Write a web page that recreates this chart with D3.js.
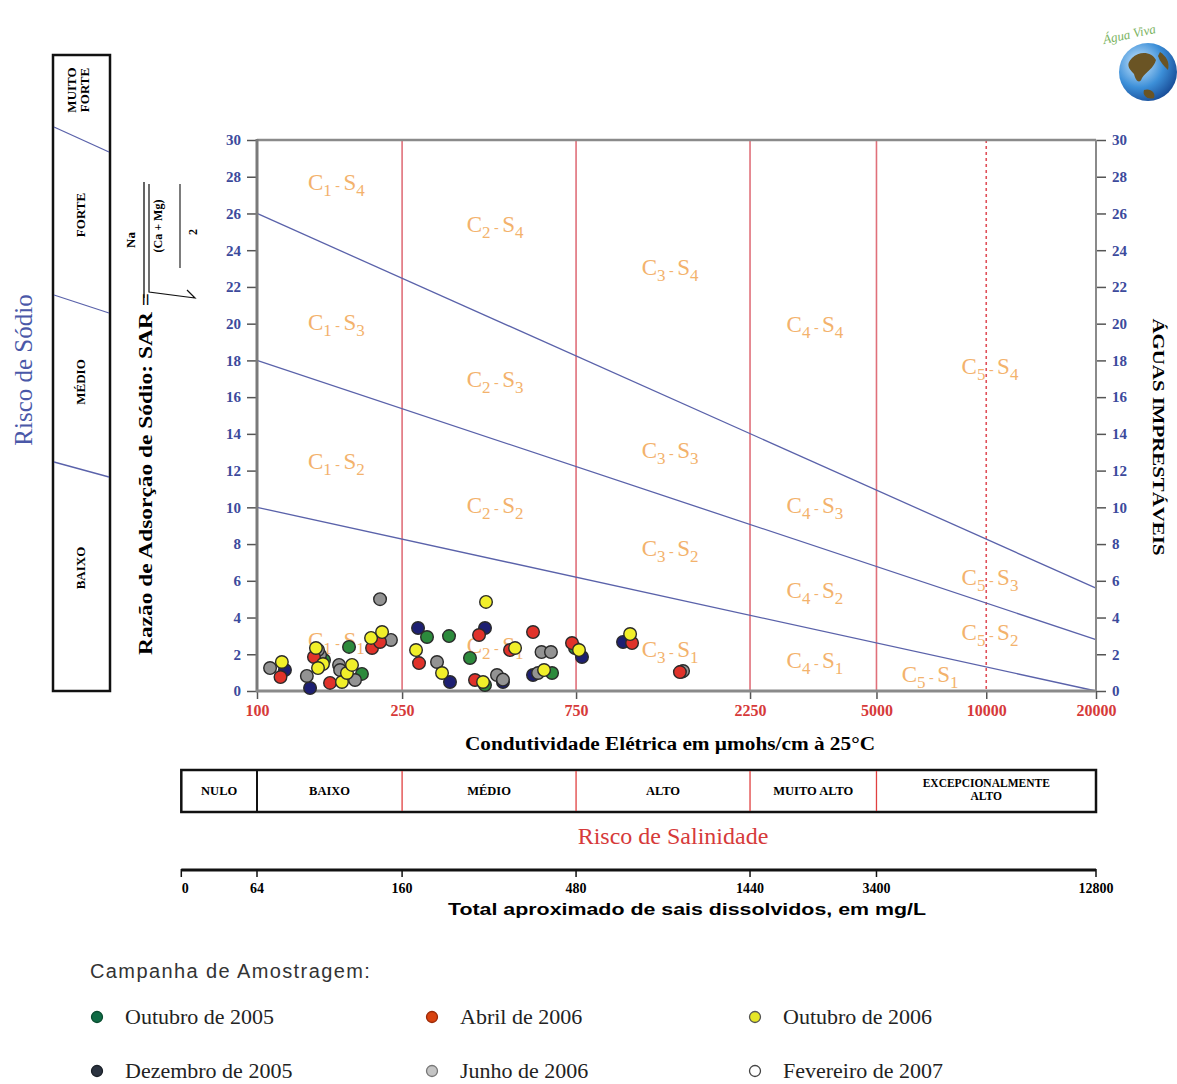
<!DOCTYPE html>
<html>
<head>
<meta charset="utf-8">
<script src="https://cdn.jsdelivr.net/npm/d3@7"></script>
<style>
  body { margin: 0; background: #fff; }
  text { font-family: "Liberation Serif", "DejaVu Serif", serif; }
</style>
</head>
<body>
<script>
const width = 1177;
const height = 1084;

// conductivity axis (µmhos/cm)
const ecTicks = [100, 250, 750, 2250, 5000, 10000, 20000];
const salinityBreaks = [250, 750, 2250, 5000];
const dashedBreak = 10000;
const sarTicks = d3.range(0, 31, 2);

// salinity classes, edges given in conductivity units
const salinityClasses = ["NULO", "BAIXO", "MÉDIO", "ALTO", "MUITO ALTO", "EXCEPCIONALMENTE ALTO"];
const salinityEdges = [62, 100, 250, 750, 2250, 5000, 20000];

// dissolved solids scale (mg/L) and where each sits on the conductivity axis
const tdsTicks = [0, 64, 160, 480, 1440, 3400, 12800];
const tdsAsEc = [62, 100, 250, 750, 2250, 5000, 20000];

// sodium-hazard boundaries: SAR at EC = 100 and EC = 20000
const sarLineEc = [100, 20000];
const sarS1S2 = [10, 0];
const sarS2S3 = [18, 2.8];
const sarS3S4 = [26, 5.6];

// zone labels  C_i - S_j
const zoneC = [1, 1, 1, 1, 2, 2, 2, 2, 3, 3, 3, 3, 4, 4, 4, 4, 5, 5, 5, 5];
const zoneS = [4, 3, 2, 1, 4, 3, 2, 1, 4, 3, 2, 1, 4, 3, 2, 1, 4, 3, 2, 1];
const zoneEc = [165, 165, 165, 165, 450, 450, 450, 450, 1358, 1358, 1358, 1358,
                3390, 3390, 3390, 3390, 10240, 10240, 10240, 7015];
const zoneSar = [27.7, 20.1, 12.5, 2.8, 25.4, 17.0, 10.1, 2.5, 23.1, 13.1, 7.8, 2.3,
                 20.0, 10.1, 5.5, 1.7, 17.7, 6.2, 3.2, 0.9];

// samples [EC, SAR] per campaign
const out2005 = [[152.7, 1.69], [178.8, 2.40], [194, 0.93], [292.6, 2.94], [336.2, 2.99],
                 [383.8, 1.80], [422, 0.33], [644.5, 0.98], [745, 2.34]];
const dez2005 = [[119.3, 1.14], [139.8, 0.16], [276.5, 3.43], [422, 3.43], [338.3, 0.49],
                 [472.7, 0.49], [571.5, 0.87], [778.6, 1.85], [1009, 2.67], [1460, 1.05]];
const abr2006 = [[116, 0.76], [143.3, 1.85], [158.6, 0.44], [206.8, 2.34], [217.5, 2.67],
                 [278.2, 1.52], [406.4, 3.05], [571.5, 3.21], [396.2, 0.60], [494.3, 2.23],
                 [731, 2.61], [1068, 2.61], [1445, 1.03]];
const jun2006 = [[217.5, 5.0], [108.6, 1.25], [137, 0.82], [148.9, 1.96], [147, 2.23],
                 [167.9, 1.42], [169, 1.14], [185.7, 0.60], [233, 2.78], [311.7, 1.58],
                 [455.2, 0.87], [472.7, 0.62], [589.8, 0.98], [603, 2.12], [640, 2.12], [1474, 1.09]];
const out2006 = [[117, 1.58], [145.1, 2.34], [151.7, 1.47], [147, 1.25], [171, 0.49],
                 [176.5, 0.98], [182.2, 1.42], [205.5, 2.89], [220.3, 3.21], [424.7, 4.85],
                 [273, 2.23], [321.7, 0.98], [416.8, 0.49], [510.2, 2.34], [612.7, 1.14],
                 [764, 2.23], [1055, 3.10]];
const fev2007 = [];

const legendNames = ["Outubro de 2005", "Dezembro de 2005", "Abril de 2006",
                     "Junho de 2006", "Outubro de 2006", "Fevereiro de 2007"];

const svg = d3.select("body").append("svg")
    .attr("width", width)
    .attr("height", height)
    .style("background", "#fff");

const x = d3.scaleLog().domain([100, 20000]).range([257, 1096]);
const y = d3.scaleLinear().domain([0, 30]).range([691, 140]);

const ORANGE = "#f3b26c";
const BLUE_TXT = "#3c4a9c";
const RED_TXT = "#d63a3a";

// ---- plot frame ----
const frame = svg.append("g");
frame.append("line").attr("x1", x(100)).attr("x2", x(20000)).attr("y1", y(30)).attr("y2", y(30))
    .attr("stroke", "#8a8a8a").attr("stroke-width", 2.5);
frame.append("line").attr("x1", x(20000)).attr("x2", x(20000)).attr("y1", y(30)).attr("y2", y(0))
    .attr("stroke", "#8a8a8a").attr("stroke-width", 2);

// salinity class verticals
svg.append("g").selectAll("line").data(salinityBreaks).join("line")
    .attr("x1", d => x(d)).attr("x2", d => x(d))
    .attr("y1", y(30)).attr("y2", y(0))
    .attr("stroke", "#e0707a").attr("stroke-width", 1.6);
svg.append("line")
    .attr("x1", x(dashedBreak)).attr("x2", x(dashedBreak))
    .attr("y1", y(30)).attr("y2", y(0))
    .attr("stroke", "#e0505a").attr("stroke-width", 1.6)
    .attr("stroke-dasharray", "3,3");

// sodium hazard boundaries
const sarLine = d3.line().x(d => x(d[0])).y(d => y(d[1]));
[sarS1S2, sarS2S3, sarS3S4].forEach(s => {
  svg.append("path")
      .attr("d", sarLine(sarLineEc.map((e, i) => [e, s[i]])))
      .attr("fill", "none")
      .attr("stroke", "#5a62aa")
      .attr("stroke-width", 1.3);
});

// zone labels
const zl = svg.append("g").attr("fill", ORANGE)
    .style("font-family", "'Liberation Sans', Arial, sans-serif");
zoneC.forEach((c, i) => {
  const t = zl.append("text")
      .attr("x", x(zoneEc[i]))
      .attr("y", y(zoneSar[i]) + 8)
      .attr("text-anchor", "middle")
      .attr("font-size", 23);
  t.append("tspan").text("C");
  t.append("tspan").attr("dy", 6).attr("font-size", 17).text(c);
  t.append("tspan").attr("dy", -6).attr("font-size", 14).text(" - ");
  t.append("tspan").text("S");
  t.append("tspan").attr("dy", 6).attr("font-size", 17).text(zoneS[i]);
});

// ---- axes ----
const yAxisL = svg.append("g").attr("transform", `translate(${x(100)},0)`)
    .call(d3.axisLeft(y).tickValues(sarTicks).tickSize(10).tickPadding(6));
const yAxisR = svg.append("g").attr("transform", `translate(${x(20000)},0)`)
    .call(d3.axisRight(y).tickValues(sarTicks).tickSize(10).tickPadding(6));
[yAxisL, yAxisR].forEach(g => {
  g.select(".domain").remove();
  g.selectAll(".tick line").attr("stroke", "#555").attr("stroke-width", 1.5);
  g.selectAll(".tick text")
      .attr("fill", BLUE_TXT)
      .style("font-family", "'Liberation Serif', serif")
      .style("font-weight", "bold")
      .style("font-size", "15px");
});

const xAxis = svg.append("g").attr("transform", `translate(0,${y(0)})`)
    .call(d3.axisBottom(x).tickValues(ecTicks).tickFormat(d3.format("d")).tickSize(8).tickPadding(6));
xAxis.select(".domain").remove();
xAxis.selectAll(".tick line").attr("stroke", "#555").attr("stroke-width", 1.5);
xAxis.selectAll(".tick text")
    .attr("fill", RED_TXT)
    .style("font-family", "'Liberation Serif', serif")
    .style("font-weight", "bold")
    .style("font-size", "16px");

frame.raise();
svg.append("line").attr("x1", x(100)).attr("x2", x(100)).attr("y1", y(30) - 1).attr("y2", y(0) + 1)
    .attr("stroke", "#7a7a7a").attr("stroke-width", 3);
svg.append("line").attr("x1", x(100) - 1).attr("x2", x(20000)).attr("y1", y(0)).attr("y2", y(0))
    .attr("stroke", "#8a8a8a").attr("stroke-width", 3);

// ---- samples ----
const series = [
  {data: dez2005, fill: "#1d1f72"},
  {data: out2005, fill: "#2c8a3c"},
  {data: jun2006, fill: "#939393"},
  {data: abr2006, fill: "#e0322a"},
  {data: out2006, fill: "#f1ef2a"},
  {data: fev2007, fill: "#ffffff"}
];
series.forEach(s => {
  svg.append("g").selectAll("circle").data(s.data).join("circle")
      .attr("cx", d => x(d[0]))
      .attr("cy", d => y(d[1]))
      .attr("r", 6.3)
      .attr("fill", s.fill)
      .attr("stroke", "#2a2a2a")
      .attr("stroke-width", 1.4);
});

// x axis title
svg.append("text")
    .attr("x", 670).attr("y", 750)
    .attr("text-anchor", "middle")
    .attr("font-size", 18).attr("font-weight", "bold")
    .attr("textLength", 410).attr("lengthAdjust", "spacingAndGlyphs")
    .text("Condutividade Elétrica em µmohs/cm à 25°C");

// ---- salinity class box ----
const box = svg.append("g");
box.append("rect")
    .attr("x", x(salinityEdges[0])).attr("y", 770)
    .attr("width", x(20000) - x(salinityEdges[0])).attr("height", 42)
    .attr("fill", "none").attr("stroke", "#111").attr("stroke-width", 2.5);
salinityEdges.slice(1, -1).forEach((e, i) => {
  box.append("line")
      .attr("x1", x(e)).attr("x2", x(e)).attr("y1", 771).attr("y2", 811)
      .attr("stroke", i === 0 ? "#111" : "#e04040")
      .attr("stroke-width", i === 0 ? 2 : 1.3);
});
salinityClasses.forEach((name, i) => {
  const cx = (x(salinityEdges[i]) + x(salinityEdges[i + 1])) / 2;
  const t = box.append("text")
      .attr("x", cx).attr("text-anchor", "middle")
      .attr("font-size", 12.5).attr("font-weight", "bold");
  if (name === "EXCEPCIONALMENTE ALTO") {
    t.attr("y", 787).attr("font-size", 11.5);
    t.append("tspan").attr("x", cx).text("EXCEPCIONALMENTE");
    t.append("tspan").attr("x", cx).attr("dy", 13).text("ALTO");
  } else {
    t.attr("y", 795).text(name);
  }
});

svg.append("text")
    .attr("x", 673).attr("y", 844)
    .attr("text-anchor", "middle")
    .attr("font-size", 24).attr("fill", RED_TXT)
    .text("Risco de Salinidade");

// ---- dissolved solids scale ----
const tds = svg.append("g");
tds.append("line")
    .attr("x1", x(tdsAsEc[0])).attr("x2", x(20000)).attr("y1", 870).attr("y2", 870)
    .attr("stroke", "#111").attr("stroke-width", 3);
tdsTicks.forEach((v, i) => {
  const px = x(tdsAsEc[i]);
  tds.append("line").attr("x1", px).attr("x2", px).attr("y1", 869).attr("y2", 877)
      .attr("stroke", "#111").attr("stroke-width", 1.5);
  tds.append("text")
      .attr("x", i === 0 ? px + 4 : px).attr("y", 893)
      .attr("text-anchor", "middle")
      .attr("font-size", 14).attr("font-weight", "bold")
      .text(v);
});
svg.append("text")
    .attr("x", 687).attr("y", 915)
    .attr("text-anchor", "middle")
    .style("font-family", "'Liberation Sans', Arial, sans-serif")
    .attr("font-size", 17).attr("font-weight", "bold")
    .attr("textLength", 478).attr("lengthAdjust", "spacingAndGlyphs")
    .text("Total aproximado de sais dissolvidos, em mg/L");

// ---- sodium hazard panel (left) ----
const sp = svg.append("g");
sp.append("rect").attr("x", 53).attr("y", 55).attr("width", 57).attr("height", 636)
    .attr("fill", "none").attr("stroke", "#111").attr("stroke-width", 2.5);
[[127, 152], [295, 313], [462, 477]].forEach(d => {
  sp.append("line").attr("x1", 54).attr("x2", 109).attr("y1", d[0]).attr("y2", d[1])
      .attr("stroke", "#5a62aa").attr("stroke-width", 1.3);
});
const sodLabels = [["MUITO", "FORTE"], ["FORTE"], ["MÉDIO"], ["BAIXO"]];
const sodCenters = [90, 215, 382, 568];
sodLabels.forEach((lines, i) => {
  const t = sp.append("text")
      .attr("transform", `translate(${lines.length > 1 ? 76 : 85},${sodCenters[i]}) rotate(-90)`)
      .attr("text-anchor", "middle")
      .attr("font-size", 13).attr("font-weight", "bold");
  lines.forEach((l, j) => t.append("tspan").attr("x", 0).attr("dy", j ? 13 : 0).text(l));
});

svg.append("text")
    .attr("transform", "translate(32,370) rotate(-90)")
    .attr("text-anchor", "middle")
    .attr("font-size", 25).attr("fill", "#4a58a8")
    .text("Risco de Sódio");

svg.append("text")
    .attr("transform", "translate(152,474) rotate(-90)")
    .attr("text-anchor", "middle")
    .attr("font-size", 19).attr("font-weight", "bold")
    .attr("textLength", 362).attr("lengthAdjust", "spacingAndGlyphs")
    .text("Razão de Adsorção de Sódio: SAR =");

// SAR formula, rotated
const f = svg.append("g").attr("transform", "translate(165,240) rotate(-90)");
f.append("text").attr("x", 0).attr("y", -30).attr("text-anchor", "middle")
    .attr("font-size", 13).attr("font-weight", "bold").text("Na");
f.append("line").attr("x1", -58).attr("x2", 58).attr("y1", -21).attr("y2", -21)
    .attr("stroke", "#111").attr("stroke-width", 1.3);
// radical sign
f.append("path").attr("d", "M56,-16 L-52,-16 L-58,30 L-50,22")
    .attr("fill", "none").attr("stroke", "#111").attr("stroke-width", 1.2);
f.append("text").attr("x", 14).attr("y", -3).attr("text-anchor", "middle")
    .attr("font-size", 12).attr("font-weight", "bold").text("(Ca  +  Mg)");
f.append("line").attr("x1", -28).attr("x2", 56).attr("y1", 15).attr("y2", 15)
    .attr("stroke", "#111").attr("stroke-width", 1.1);
f.append("text").attr("x", 8).attr("y", 32).attr("text-anchor", "middle")
    .attr("font-size", 12).attr("font-weight", "bold").text("2");

// right side label
svg.append("text")
    .attr("transform", "translate(1153,437) rotate(90)")
    .attr("text-anchor", "middle")
    .attr("font-size", 16).attr("font-weight", "bold")
    .attr("textLength", 237).attr("lengthAdjust", "spacingAndGlyphs")
    .text("ÁGUAS IMPRESTÁVEIS");

// ---- logo ----
const defs = svg.append("defs");
const grad = defs.append("radialGradient").attr("id", "globe").attr("cx", "35%").attr("cy", "35%").attr("r", "70%");
grad.append("stop").attr("offset", "0%").attr("stop-color", "#cfeaff");
grad.append("stop").attr("offset", "60%").attr("stop-color", "#3c8fd8");
grad.append("stop").attr("offset", "100%").attr("stop-color", "#1a4f9a");
const logo = svg.append("g").attr("transform", "translate(1148,72)");
logo.append("circle").attr("r", 29).attr("fill", "url(#globe)");
logo.append("path").attr("d", "M-16,-14 C-8,-22 4,-20 8,-12 C6,-4 -2,0 -6,6 C-8,12 -12,10 -14,2 C-20,-4 -22,-8 -16,-14 Z")
    .attr("fill", "#6a5424");
logo.append("path").attr("d", "M12,-20 C18,-16 22,-10 20,-2 C16,-6 12,-10 10,-16 Z").attr("fill", "#6a5424");
logo.append("path").attr("d", "M-4,18 C2,16 8,20 6,26 C0,28 -6,24 -4,18 Z").attr("fill", "#6a5424");
svg.append("text")
    .attr("transform", "translate(1104,44) rotate(-12)")
    .attr("font-size", 13).attr("font-style", "italic").attr("fill", "#7cb463")
    .text("Água Viva");

// ---- legend ----
svg.append("text")
    .attr("x", 90).attr("y", 978)
    .style("font-family", "'Liberation Sans', Arial, sans-serif")
    .attr("font-size", 20).attr("letter-spacing", 1.4).attr("fill", "#333")
    .text("Campanha de Amostragem:");
const legendFills = ["#0f6b45", "#2b3340", "#d8420f", "#c4c4c4", "#e6e628", "#ffffff"];
const legendStroke = ["#0a4d30", "#1a2028", "#9a2a08", "#777", "#555", "#444"];
const legendCol = [97, 97, 432, 432, 755, 755];
const legendRow = [1017, 1071, 1017, 1071, 1017, 1071];
legendNames.forEach((name, i) => {
  svg.append("circle")
      .attr("cx", legendCol[i]).attr("cy", legendRow[i]).attr("r", 5.5)
      .attr("fill", legendFills[i]).attr("stroke", legendStroke[i]).attr("stroke-width", 1.3);
  svg.append("text")
      .attr("x", legendCol[i] + 28).attr("y", legendRow[i] + 7)
      .attr("font-size", 22).attr("fill", "#222")
      .text(name);
});
</script>
</body>
</html>
